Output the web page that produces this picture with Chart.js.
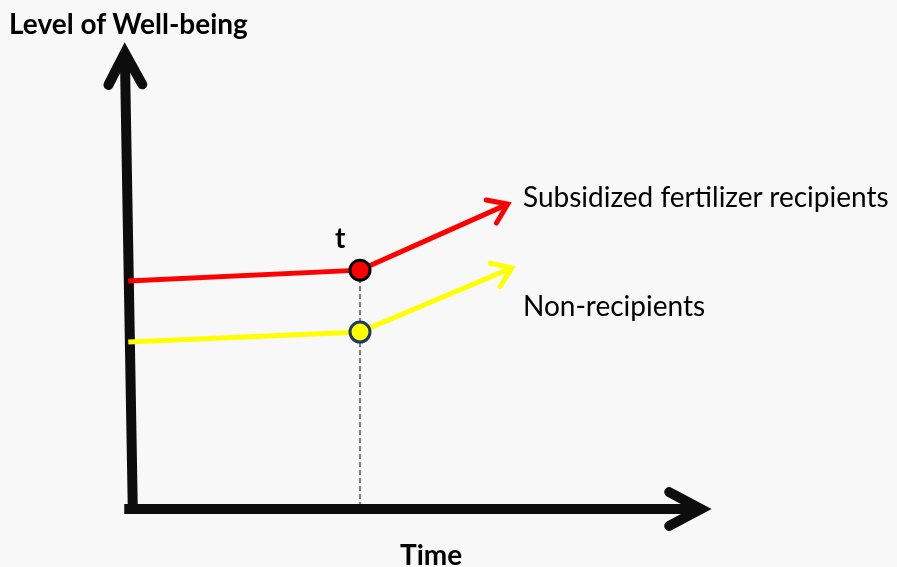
<!DOCTYPE html>
<html>
<head>
<meta charset="utf-8">
<script src="https://cdn.jsdelivr.net/npm/chart.js@4"></script>
<style>
  body { margin: 0; background: #f8f8f8; }
  #wrap { position: relative; width: 897px; height: 567px; font-family: Lato, "Open Sans", sans-serif; color: #000; }
  #wrap canvas { position: absolute; left: 0; top: 0; }
  .lbl { position: absolute; white-space: nowrap; line-height: 28px; font-size: 28px; }
  .b { font-weight: bold; }
</style>
</head>
<body>
<div id="wrap">
  <canvas id="diag" width="897" height="567"></canvas>
  <div class="lbl b" style="left:9px; top:9px;">Level of Well-being</div>
  <div class="lbl b" style="left:335px; top:223px;">t</div>
  <div class="lbl" style="left:523px; top:182px;">Subsidized fertilizer recipients</div>
  <div class="lbl" style="left:523px; top:291px;">Non-recipients</div>
  <div class="lbl b" style="left:400px; top:540px;">Time</div>
</div>
<script>
// conceptual diagram: time (x) vs well-being (y), arbitrary units
const tPoint = 4;

const recipientsX = [-0.03, tPoint, 6.57];
const recipientsY = [5.08, 5.32, 6.79];

const nonRecipientsX = [-0.03, tPoint, 6.64];
const nonRecipientsY = [3.72, 3.94, 5.37];

const xAxisX = [-0.1, 9.93];
const xAxisY = [0, 0];
const yAxisX = [0.05, -0.09];
const yAxisY = [-0.11, 10.16];

const toPts = (xs, ys) => xs.map((x, i) => ({ x: x, y: ys[i] }));

// draws a chevron at the last point of datasets that ask for one
const arrowPlugin = {
    id: 'arrows',
    afterDatasetsDraw(chart) {
        const ctx = chart.ctx;
        chart.data.datasets.forEach((ds, i) => {
            if (!ds.arrowLen) return;
            const pts = chart.getDatasetMeta(i).data;
            const a = pts[pts.length - 2], b = pts[pts.length - 1];
            const ang = Math.atan2(b.y - a.y, b.x - a.x);
            const spread = ds.arrowAngle * Math.PI / 180;
            ctx.save();
            ctx.strokeStyle = ds.borderColor;
            ctx.lineWidth = ds.borderWidth;
            ctx.lineCap = 'round';
            ctx.lineJoin = 'miter';
            ctx.beginPath();
            ctx.moveTo(b.x - ds.arrowLen * Math.cos(ang - spread), b.y - ds.arrowLen * Math.sin(ang - spread));
            ctx.lineTo(b.x, b.y);
            ctx.lineTo(b.x - ds.arrowLen * Math.cos(ang + spread), b.y - ds.arrowLen * Math.sin(ang + spread));
            ctx.stroke();
            ctx.restore();
        });
    }
};

new Chart(document.getElementById('diag'), {
    type: 'scatter',
    data: {
        datasets: [
            {
                data: [{ x: tPoint, y: recipientsY[1] }, { x: tPoint, y: 0 }],
                showLine: true, borderColor: '#000', borderWidth: 1, borderDash: [5, 3],
                pointRadius: 0, order: 5
            },
            {
                data: toPts(xAxisX, xAxisY),
                showLine: true, borderColor: '#0d0d0d', borderWidth: 10, pointRadius: 0,
                arrowLen: 36, arrowAngle: 28, order: 4
            },
            {
                data: toPts(yAxisX, yAxisY),
                showLine: true, borderColor: '#0d0d0d', borderWidth: 10, pointRadius: 0,
                arrowLen: 36, arrowAngle: 28, order: 4
            },
            {
                data: toPts(nonRecipientsX, nonRecipientsY),
                showLine: true, borderColor: '#ffff00', borderWidth: 5,
                pointRadius: [0, 10, 0], pointBackgroundColor: '#ffff00',
                pointBorderColor: '#1f3864', pointBorderWidth: 3,
                arrowLen: 22, arrowAngle: 35, order: 2
            },
            {
                data: toPts(recipientsX, recipientsY),
                showLine: true, borderColor: '#ff0000', borderWidth: 5,
                pointRadius: [0, 10, 0], pointBackgroundColor: '#ff0000',
                pointBorderColor: '#000', pointBorderWidth: 3,
                arrowLen: 22, arrowAngle: 35, order: 1
            }
        ]
    },
    options: {
        responsive: false,
        animation: false,
        clip: false,
        layout: { padding: 0 },
        plugins: { legend: { display: false }, tooltip: { enabled: false } },
        scales: {
            x: { type: 'linear', display: false, min: -130 / 57.5, max: 767 / 57.5 },
            y: { type: 'linear', display: false, min: -58 / 44.9, max: 509 / 44.9 }
        }
    },
    plugins: [arrowPlugin]
});
</script>
</body>
</html>
